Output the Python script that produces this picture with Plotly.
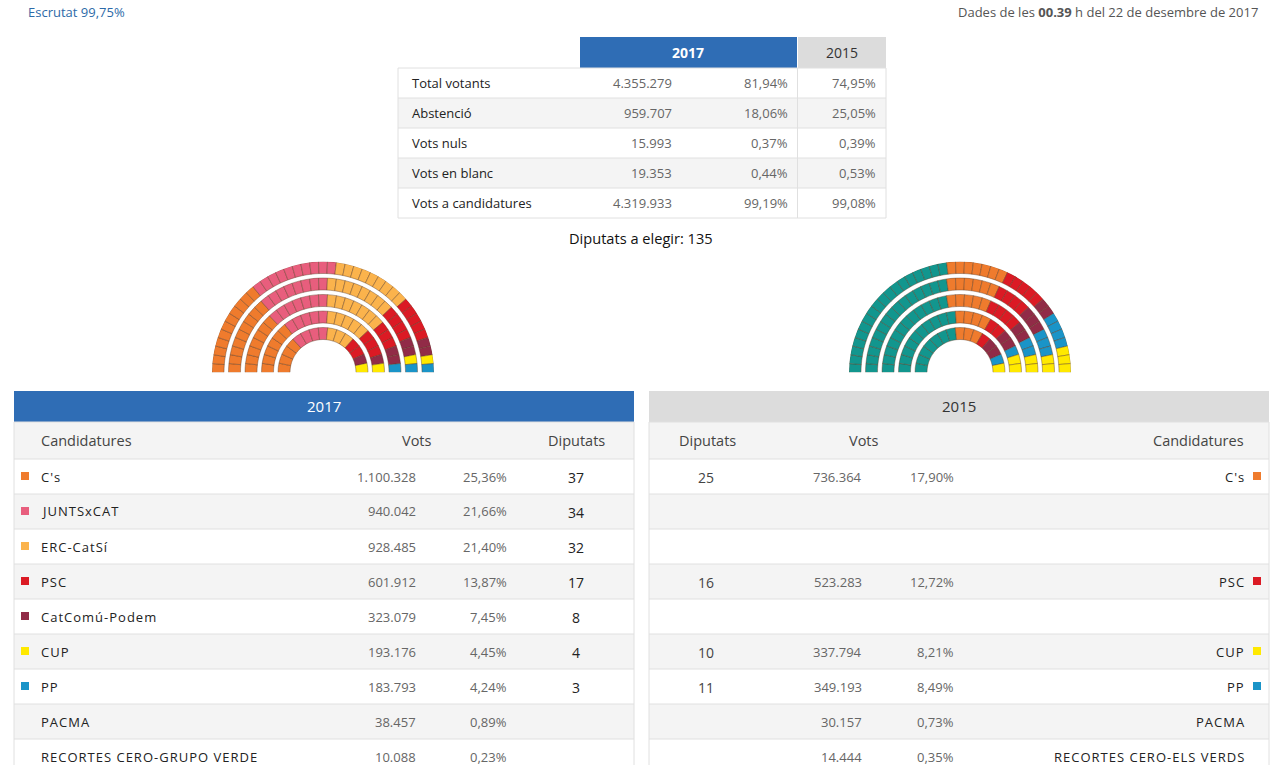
import plotly.graph_objects as go

W, H = 1280, 765

# ---------------- DATA ----------------
scrutinized = "Escrutat 99,75%"
time_txt = "00.39"
date_txt = "22 de desembre de 2017"

summary_labels = ["Total votants", "Abstenció", "Vots nuls", "Vots en blanc", "Vots a candidatures"]
summary_votes_2017 = [4355279, 959707, 15993, 19353, 4319933]
summary_pct_2017 = [81.94, 18.06, 0.37, 0.44, 99.19]
summary_pct_2015 = [74.95, 25.05, 0.39, 0.53, 99.08]
seats_total = 135

parties_2017 = ["C's", "JUNTSxCAT", "ERC-CatSí", "PSC", "CatComú-Podem", "CUP", "PP",
                "PACMA", "RECORTES CERO-GRUPO VERDE"]
colors_2017 = ["#ef7b2d", "#e85e7d", "#fbb34c", "#db1a24", "#912b47", "#ffe900", "#1a94c8",
               None, None]
votes_2017 = [1100328, 940042, 928485, 601912, 323079, 193176, 183793, 38457, 10088]
pct_2017 = [25.36, 21.66, 21.40, 13.87, 7.45, 4.45, 4.24, 0.89, 0.23]
seats_2017 = [37, 34, 32, 17, 8, 4, 3, None, None]

parties_2015_tbl = ["C's", "", "", "PSC", "", "CUP", "PP", "PACMA", "RECORTES CERO-ELS VERDS"]
colors_2015_tbl = ["#ef7b2d", None, None, "#db1a24", None, "#ffe900", "#1a94c8", None, None]
votes_2015 = [736364, None, None, 523283, None, 337794, 349193, 30157, 14444]
pct_2015 = [17.90, None, None, 12.72, None, 8.21, 8.49, 0.73, 0.35]
seats_2015 = [25, None, None, 16, None, 10, 11, None, None]

parl_parties_2017 = ["C's", "JUNTSxCAT", "ERC-CatSí", "PSC", "CatComú-Podem", "CUP", "PP"]
parl_seats_2017 = [37, 34, 32, 17, 8, 4, 3]
parl_colors_2017 = ["#ef7b2d", "#e85e7d", "#fbb34c", "#db1a24", "#912b47", "#ffe900", "#1a94c8"]

parl_parties_2015 = ["JxSí", "C's", "PSC", "CSQP", "PP", "CUP"]
parl_seats_2015 = [62, 25, 16, 11, 11, 10]
parl_colors_2015 = ["#12968e", "#ef7b2d", "#db1a24", "#912b47", "#1a94c8", "#ffe900"]

# ---------------- STYLE ----------------
FONT = "Open Sans"
BLUE = "#2f6db5"
HDR_GREY = "#dcdcdc"
ROW_GREY = "#f4f4f4"
LINE = "#e0e0e0"

ring_seats = [15, 21, 27, 33, 39]
ring_inner = [33, 49.5, 66, 82.5, 99]
ring_width = 12


def X(px):
    return px / W


def Y(py):
    return 1 - py / H


def fmt_int(n):
    return f"{n:,}".replace(",", ".")


def fmt_pct(p):
    return f"{p:.2f}".replace(".", ",") + "%"


shapes = []
annotations = []


def rect(x0, y0, x1, y1, fill, line=None):
    shapes.append(dict(type="rect", xref="paper", yref="paper",
                       x0=X(x0), x1=X(x1), y0=Y(y1), y1=Y(y0),
                       fillcolor=fill, line=dict(width=1 if line else 0, color=line or fill),
                       layer="below"))


def hline(x0, x1, y, color=LINE):
    shapes.append(dict(type="line", xref="paper", yref="paper",
                       x0=X(x0), x1=X(x1), y0=Y(y), y1=Y(y),
                       line=dict(width=1, color=color), layer="below"))


def vline(x, y0, y1, color=LINE):
    shapes.append(dict(type="line", xref="paper", yref="paper",
                       x0=X(x), x1=X(x), y0=Y(y0), y1=Y(y1),
                       line=dict(width=1, color=color), layer="below"))


def txt(x, y, s, size=13, color="#333", anchor="left", weight="normal"):
    annotations.append(dict(text=s, xref="paper", yref="paper", x=X(x), y=Y(y),
                            xanchor=anchor, yanchor="middle", showarrow=False,
                            borderpad=0,
                            font=dict(family=FONT, size=size, color=color, weight=weight)))


def spaced(s):
    return f'<span style="letter-spacing:1px">{s}</span>'


# ---------------- TOP TEXTS ----------------
txt(27, 12, scrutinized, 13, "#2d6aa8")
txt(1259, 12, f"Dades de les <b>{time_txt}</b> h del {date_txt}", 13, "#555", anchor="right")

# ---------------- SUMMARY TABLE ----------------
rect(580, 37, 797, 68, BLUE)
rect(798, 37, 886, 68, HDR_GREY)
txt(688, 52.5, "<b>2017</b>", 14, "white", anchor="center")
txt(842, 52.5, "2015", 14, "#333", anchor="center")
row_h = 30
top0 = 68
for i, lab in enumerate(summary_labels):
    y0 = top0 + i * row_h
    if i % 2 == 1:
        rect(398, y0, 886, y0 + row_h, ROW_GREY)
    yc = y0 + row_h / 2
    txt(411, yc, lab, 13, "#222")
    txt(673, yc, fmt_int(summary_votes_2017[i]), 13, "#666", anchor="right")
    txt(789, yc, fmt_pct(summary_pct_2017[i]), 13, "#666", anchor="right")
    txt(877, yc, fmt_pct(summary_pct_2015[i]), 13, "#666", anchor="right")
for i in range(len(summary_labels) + 1):
    hline(398, 886, top0 + i * row_h)
bottom = top0 + len(summary_labels) * row_h
vline(398, top0, bottom)
vline(797.5, top0, bottom)
vline(886, top0, bottom)

txt(641, 238, "Diputats a elegir: " + str(seats_total), 14.6, "#111", anchor="center")

# ---------------- RESULTS TABLES ----------------
hdr_top, hdr_bot = 391, 422
col_bot = 459
r_h = 35

# left (2017)
LX0, LX1 = 14, 634
rect(LX0, hdr_top, LX1, hdr_bot, BLUE)
txt((LX0 + LX1) / 2, 406, "2017", 15, "white", anchor="center")
rect(LX0, hdr_bot, LX1, col_bot, ROW_GREY)
txt(40, 441, "Candidatures", 14.5, "#444")
txt(417, 441, "Vots", 14.5, "#444", anchor="center")
txt(576, 441, "Diputats", 14.5, "#444", anchor="center")

# right (2015)
RX0, RX1 = 649, 1269
rect(RX0, hdr_top, RX1, hdr_bot, HDR_GREY)
txt((RX0 + RX1) / 2, 406, "2015", 15, "#333", anchor="center")
rect(RX0, hdr_bot, RX1, col_bot, ROW_GREY)
txt(707, 441, "Diputats", 14.5, "#444", anchor="center")
txt(864, 441, "Vots", 14.5, "#444", anchor="center")
txt(1245, 441, "Candidatures", 14.5, "#444", anchor="right")

for i in range(len(parties_2017)):
    y0 = col_bot + i * r_h
    yc = y0 + r_h / 2
    if i % 2 == 1:
        rect(LX0, y0, LX1, y0 + r_h, ROW_GREY)
        rect(RX0, y0, RX1, y0 + r_h, ROW_GREY)
    # left
    if colors_2017[i]:
        rect(21, yc - 4.5, 29, yc + 3.5, colors_2017[i])
    txt(40, yc, spaced(parties_2017[i]), 13, "#222")
    txt(417, yc, fmt_int(votes_2017[i]), 13, "#666", anchor="right")
    txt(508, yc, fmt_pct(pct_2017[i]), 13, "#666", anchor="right")
    if seats_2017[i] is not None:
        txt(576, yc + 1, str(seats_2017[i]), 14, "#222", anchor="center")
    # right
    if seats_2015[i] is not None:
        txt(706, yc + 1, str(seats_2015[i]), 14, "#444", anchor="center")
    if votes_2015[i] is not None:
        txt(863, yc, fmt_int(votes_2015[i]), 13, "#666", anchor="right")
        txt(955, yc, fmt_pct(pct_2015[i]), 13, "#666", anchor="right")
    if parties_2015_tbl[i]:
        txt(1246, yc, spaced(parties_2015_tbl[i]), 13, "#222", anchor="right")
    if colors_2015_tbl[i]:
        rect(1253, yc - 4.5, 1261, yc + 3.5, colors_2015_tbl[i])

for i in range(len(parties_2017) + 1):
    yl = col_bot + i * r_h
    hline(LX0, LX1, yl)
    hline(RX0, RX1, yl)
hline(LX0, LX1, hdr_bot)
hline(RX0, RX1, hdr_bot)
vline(LX0, hdr_bot, H)
vline(LX1, hdr_bot, H)
vline(RX0, hdr_bot, H)
vline(RX1, hdr_bot, H)


# ---------------- PARLIAMENTS ----------------
def parliament_traces(parties, seats, colors, polar):
    slots = []
    for k, n in enumerate(ring_seats):
        for j in range(n):
            a = 180 * (j + 0.5) / n
            slots.append((a, k, 180 / n))
    slots.sort(key=lambda s: (round(s[0], 6), s[1]))
    traces = []
    idx = 0
    for p, n, c in zip(parties, seats, colors):
        chunk = slots[idx:idx + n]
        idx += n
        traces.append(go.Barpolar(
            theta=[180 - s[0] for s in chunk],
            width=[s[2] for s in chunk],
            r=[ring_width] * len(chunk),
            base=[ring_inner[s[1]] for s in chunk],
            marker=dict(color=c, line=dict(color="rgba(95,60,35,0.7)", width=0.6)),
            name=p, subplot=polar, showlegend=False, hoverinfo="name"))
    return traces


fig = go.Figure()
for t in parliament_traces(parl_parties_2017, parl_seats_2017, parl_colors_2017, "polar"):
    fig.add_trace(t)
for t in parliament_traces(parl_parties_2015, parl_seats_2015, parl_colors_2015, "polar2"):
    fig.add_trace(t)

polar_common = dict(
    sector=[0, 180], hole=0, bgcolor="rgba(0,0,0,0)",
    radialaxis=dict(visible=False, range=[0, 111], showgrid=False, showline=False, ticks=""),
    angularaxis=dict(visible=False, showgrid=False, showline=False, ticks="",
                     direction="counterclockwise", rotation=0),
)

fig.update_layout(
    width=W, height=H, margin=dict(l=0, r=0, t=0, b=0),
    paper_bgcolor="white", plot_bgcolor="white",
    polar=dict(domain=dict(x=[X(212), X(434)], y=[Y(372.5), Y(261.5)]), **polar_common),
    polar2=dict(domain=dict(x=[X(849), X(1071)], y=[Y(372.5), Y(261.5)]), **polar_common),
    shapes=shapes, annotations=annotations,
    font=dict(family=FONT),
    bargap=0,
)

fig.write_html("out.html", config={"displayModeBar": False},
               post_script="document.body.style.margin='0';document.body.style.overflow='hidden';")
